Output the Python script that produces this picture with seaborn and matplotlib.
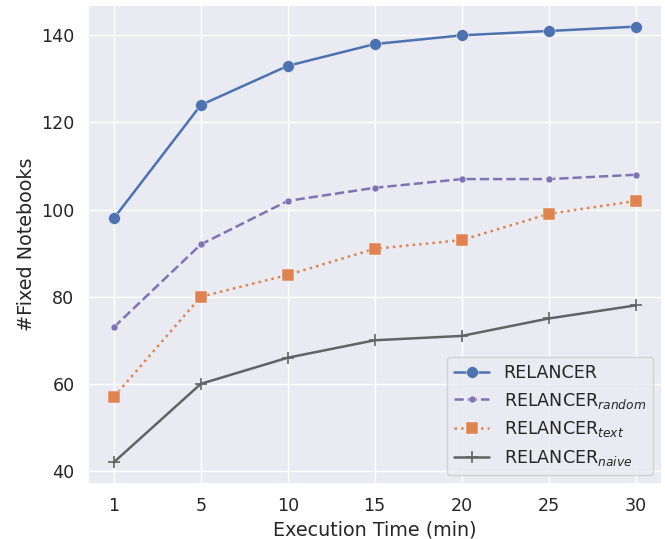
import pandas as pd
import matplotlib.pyplot as plt
import seaborn as sns

sns.set_theme(style='darkgrid', palette='deep', font_scale=1.15)

times = ['1', '5', '10', '15', '20', '25', '30']
relancer = [98, 124, 133, 138, 140, 141, 142]
relancer_random = [73, 92, 102, 105, 107, 107, 108]
relancer_text = [57, 80, 85, 91, 93, 99, 102]
relancer_naive = [42, 60, 66, 70, 71, 75, 78]

deep = sns.color_palette('deep')

series = [
    ('RELANCER', relancer, deep[0], '-', 'o', 8.5),
    ('RELANCER$_{random}$', relancer_random, deep[4], '--', 'o', 5),
    ('RELANCER$_{text}$', relancer_text, deep[1], ':', 's', 8.5),
    ('RELANCER$_{naive}$', relancer_naive, '#636363', '-', '+', 9),
]

fig, ax = plt.subplots(figsize=(6.65, 5.39), dpi=100)
x = list(range(len(times)))
for label, vals, color, ls, mk, ms in series:
    df = pd.DataFrame({'x': x, 'y': vals})
    sns.lineplot(data=df, x='x', y='y', ax=ax, color=color, linestyle=ls,
                 marker=mk, markersize=ms, linewidth=1.8, label=label,
                 markeredgecolor=color if mk == '+' else 'white',
                 markeredgewidth=1.2 if mk == '+' else 0.3)

ax.set_xticks(x)
ax.set_xticklabels(times)
ax.set_yticks([40, 60, 80, 100, 120, 140])
ax.set_xlabel('Execution Time (min)')
ax.set_ylabel('#Fixed Notebooks')
ax.legend(loc='lower right')
fig.subplots_adjust(left=0.132, right=0.995, top=0.991, bottom=0.102)
plt.savefig('out.png')
